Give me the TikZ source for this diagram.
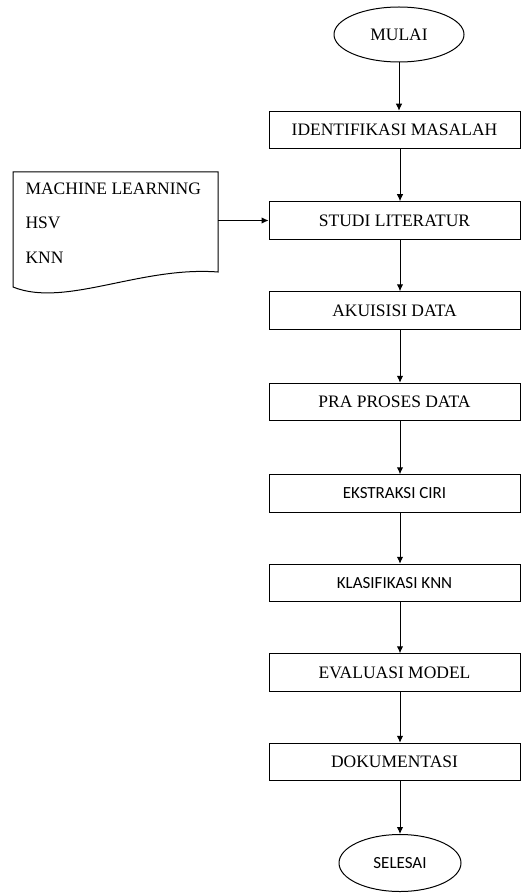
\documentclass[tikz,border=0pt]{standalone}
\usepackage{fontspec}
\setmainfont{Liberation Serif}
\newfontfamily\calibri{Carlito}
\usetikzlibrary{shapes.geometric, positioning, arrows.meta}

\tikzset{
    kotak/.style={draw, minimum width=251pt, minimum height=37.5pt, inner sep=0pt,
        font=\fontsize{17.5}{21}\selectfont},
    kotaksans/.style={kotak, font=\calibri\fontsize{17}{20}\selectfont},
    oval/.style={draw, ellipse, inner sep=0pt},
    teks/.style={anchor=west, inner sep=0pt, font=\fontsize{17.5}{21}\selectfont}
}

\begin{document}
\begin{tikzpicture}[x=1pt, y=-1pt, line width=1pt, >={Latex[length=7pt,width=6.5pt]}]
    \useasboundingbox (0,0) rectangle (522,893);

    % Mulai dan selesai
    \node[oval, minimum width=130pt, minimum height=55pt, font=\fontsize{17.5}{21}\selectfont] (mulai) at (399,34.5) {MULAI};
    \node[oval, minimum width=122pt, minimum height=57pt, font=\calibri\fontsize{17}{20}\selectfont] (selesai) at (400,863) {SELESAI};

    % Tahapan
    \node[kotak] (idm) at (394.5,130) {IDENTIFIKASI MASALAH};
    \node[kotak] (studi) at (394.5,220.5) {STUDI LITERATUR};
    \node[kotak] (akuisisi) at (394.5,310.5) {AKUISISI DATA};
    \node[kotak] (praproses) at (394.5,402) {PRA PROSES DATA};
    \node[kotaksans] (ekstraksi) at (394.5,493.5) {EKSTRAKSI CIRI};
    \node[kotaksans] (klasifikasi) at (394.5,583) {KLASIFIKASI KNN};
    \node[kotak] (evaluasi) at (394.5,672.5) {EVALUASI MODEL};
    \node[kotak] (dok) at (394.5,762) {DOKUMENTASI};

    % Panah alur
    \draw[->] (mulai) -- (mulai |- idm.north);
    \foreach \a/\b in {idm/studi, studi/akuisisi, akuisisi/praproses, praproses/ekstraksi,
        ekstraksi/klasifikasi, klasifikasi/evaluasi, evaluasi/dok}
        \draw[->] ([xshift=5.5pt]\a.south) -- ([xshift=5.5pt]\b.north);
    \draw[->] ([xshift=5.5pt]dok.south) -- (selesai.north);

    % Dokumen referensi
    \draw (13,172) -- (218,172) -- (218,272)
        .. controls (140,266) and (65,308) .. (13,287) -- cycle;
    \node[teks] (ml) at (25,189) {MACHINE LEARNING};
    \node[teks] (hsv) at (25,223) {HSV};
    \node[teks] (knn) at (25,258) {KNN};
    \coordinate (dokkanan) at (218,220.5);
    \draw[->] (dokkanan) -- (studi.west);
\end{tikzpicture}
\end{document}
